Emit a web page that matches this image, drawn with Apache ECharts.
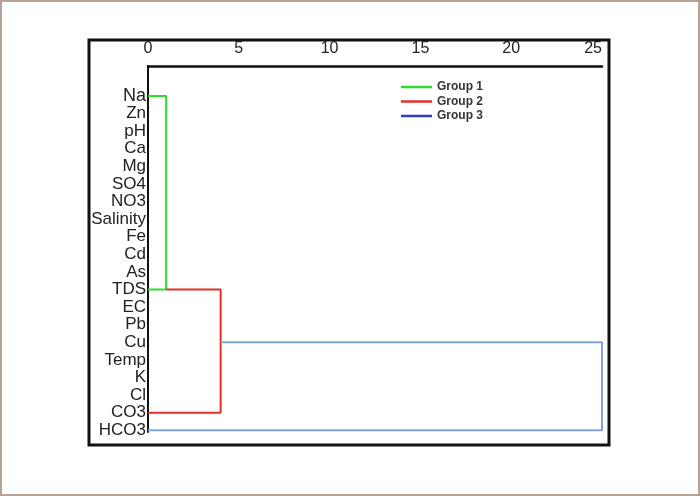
<!DOCTYPE html>
<html>
<head>
<meta charset="utf-8">
<script src="https://cdn.jsdelivr.net/npm/echarts@6/dist/echarts.min.js"></script>
<style>
  html, body { margin: 0; padding: 0; background: #fff; }
  #chart { width: 700px; height: 496px; }
</style>
</head>
<body>
<div id="chart"></div>
<script>
// leaves of the dendrogram, top to bottom
const leaves = ["Na", "Zn", "pH", "Ca", "Mg", "SO4", "NO3", "Salinity", "Fe", "Cd",
  "As", "TDS", "EC", "Pb", "Cu", "Temp", "K", "Cl", "CO3", "HCO3"];
const xTicks = [0, 5, 10, 15, 20, 25];

// each link: upper child (leaf position, height) joined to lower child at joinHeight
const groupNames = ["Group 1", "Group 2", "Group 3"];
const upperPos = [0, 11, 14];       // Na, TDS (group 1 node), middle of group 2
const upperHeight = [0, 1, 4];
const lowerPos = [11, 18, 19];      // TDS, CO3, HCO3
const lowerHeight = [0, 0, 0];
const joinHeight = [1, 4, 25];

const lineColors = ["#2fdc2f", "#e0302c", "#7fa3e3"];
const legendColors = ["#2fdc2f", "#e0302c", "#2c3cc0"];

let chart = echarts.init(document.getElementById("chart"));

function linkPath(i) {
  return [
    [upperHeight[i], upperPos[i]],
    [joinHeight[i], upperPos[i]],
    [joinHeight[i], lowerPos[i]],
    [lowerHeight[i], lowerPos[i]],
  ];
}

let option = {
  animation: false,
  backgroundColor: "#fff",
  textStyle: { fontFamily: "Liberation Sans, Arial, sans-serif" },
  grid: { left: 148, right: 98, top: 66, bottom: 64 },
  legend: {
    orient: "vertical",
    left: 401,
    top: 81,
    padding: 0,
    itemGap: 2.5,
    icon: "rect",
    itemWidth: 31,
    itemHeight: 2.5,
    textStyle: { fontSize: 12, fontWeight: "bold", color: "#333" },
    data: groupNames.map((name, i) => ({
      name: name,
      itemStyle: { color: legendColors[i] },
    })),
  },
  xAxis: {
    type: "value",
    position: "top",
    min: 0,
    max: 25,
    interval: 5,
    axisLine: { show: true, onZero: false, lineStyle: { color: "#111", width: 2.5 } },
    axisTick: { show: false },
    splitLine: { show: false },
    axisLabel: {
      fontSize: 16,
      color: "#222",
      margin: 9,
      customValues: xTicks,
      alignMaxLabel: "right",
    },
  },
  yAxis: {
    type: "value",
    inverse: true,
    min: -1.7,
    max: 19.1,
    axisLine: { show: true, onZero: false, lineStyle: { color: "#111", width: 2 } },
    axisTick: { show: false },
    splitLine: { show: false },
    axisLabel: {
      fontSize: 17,
      color: "#222",
      margin: 2,
      customValues: leaves.map((_, i) => i),
      formatter: (v) => (v === 0 ? "{big|" + leaves[v] + "}" : leaves[v]),
      rich: { big: { fontSize: 18, color: "#222" } },
    },
  },
  series: groupNames.map((name, i) => ({
    name: name,
    type: "line",
    color: lineColors[i],
    showSymbol: false,
    symbol: "none",
    lineStyle: { width: 2, color: lineColors[i] },
    data: linkPath(i),
  })),
  graphic: [
    {
      type: "rect",
      shape: { x: 1, y: 1, width: 698, height: 494 },
      style: { fill: null, stroke: "#b8a294", lineWidth: 2 },
      silent: true,
    },
    {
      type: "rect",
      shape: { x: 89, y: 40, width: 520, height: 405 },
      style: { fill: null, stroke: "#111", lineWidth: 3 },
      silent: true,
    },
  ],
};

chart.setOption(option);
</script>
</body>
</html>
